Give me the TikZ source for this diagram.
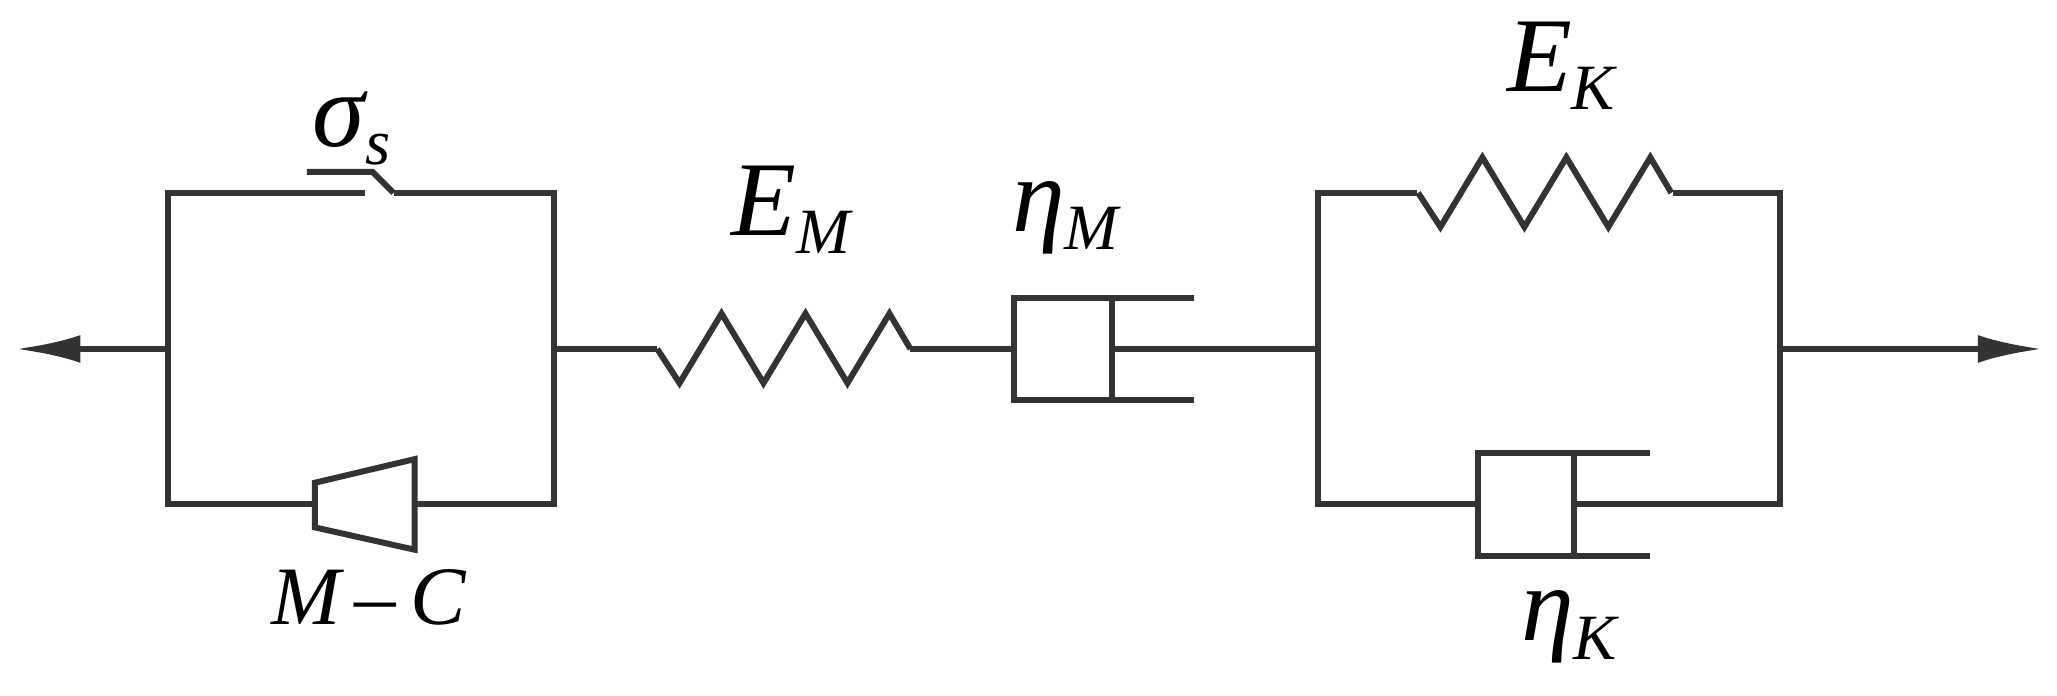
\documentclass[tikz,border=0pt]{standalone}
\usepackage{fontspec}
\setmainfont{Liberation Serif}
\usetikzlibrary{arrows.meta}
\newcommand{\lab}[2]{{\fontsize{23}{25}\selectfont\itshape #1}\raisebox{-4pt}{\fontsize{14}{16}\selectfont\itshape #2}}
\begin{document}
\begin{tikzpicture}[x=0.01cm,y=-0.01cm,
  wire/.style={line width=1.3pt,black!80},
  lbl/.style={inner sep=0pt}]
\useasboundingbox (0,0) rectangle (1568,530);
\newcommand{\myspring}[2]{% x start, y mid
  \draw[wire] (#1,#2) -- ++(17,26) -- ++(32,-53) -- ++(32,53) -- ++(32,-53) -- ++(32,53) -- ++(32,-53) -- ++(16,27);}
\coordinate (La) at (12,266);
\coordinate (L1) at (128,266);
\coordinate (R1) at (422,266);
\coordinate (L2) at (1005,266);
\coordinate (R2) at (1357,266);
\coordinate (Ra) at (1557,266);
\draw[wire,-{Latex[length=14pt,width=6pt]}] (L1) -- (La);
\draw[wire,-{Latex[length=14pt,width=6pt]}] (R2) -- (Ra);
\draw[wire] (278,147) -- (128,147) -- (128,384) -- (240,384);
\draw[wire] (316,384) -- (422,384) -- (422,147) -- (300,147);
\draw[wire] (234,131) -- (284,131) -- (300,147);
\draw[wire] (240,368) -- (240,402) -- (316,419) -- (316,350) -- cycle;
\node[lbl] (sig) at (268,98) {\lab{σ}{s}};
\node[lbl,font=\fontsize{18}{20}\selectfont] (mc) at (281,455) {\itshape M\,–\,C};
\draw[wire] (R1) -- (501,266);
\myspring{501}{266}
\node[lbl] (EM) at (603,160) {\lab{E}{M}};
\draw[wire] (694,266) -- (773,266);
\draw[wire] (910,227) -- (773,227) -- (773,305) -- (910,305);
\draw[wire] (848,227) -- (848,305);
\draw[wire] (848,266) -- (L2);
\node[lbl] (etaM) at (812,166) {\lab{η}{M}};
\draw[wire] (1080,147) -- (1005,147) -- (1005,384) -- (1127,384);
\draw[wire] (1275,147) -- (1357,147) -- (1357,384) -- (1200,384);
\myspring{1081}{147}
\node[lbl] (EK) at (1190,50) {\lab{E}{K}};
\draw[wire] (1258,345) -- (1127,345) -- (1127,424) -- (1258,424);
\draw[wire] (1200,345) -- (1200,424);
\node[lbl] (etaK) at (1196,478) {\lab{η}{K}};
\end{tikzpicture}
\end{document}
